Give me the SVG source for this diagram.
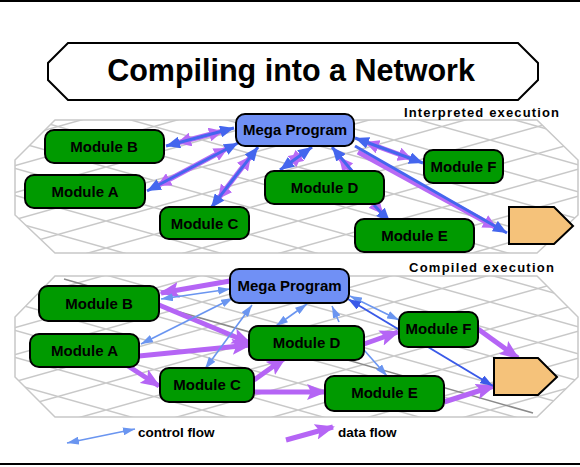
<svg xmlns="http://www.w3.org/2000/svg" width="580" height="467" viewBox="0 0 580 467">
<defs>
<style>
.node{stroke:#000;stroke-width:2}
.mod{fill:#009a00}
.mega{fill:#7090f5}
.lbl{font-family:"Liberation Sans",Arial,sans-serif;font-weight:bold;font-size:15px;fill:#000;text-anchor:middle}
.cap{font-family:"Liberation Sans",Arial,sans-serif;font-weight:bold;font-size:13px;fill:#000}
.panel{fill:url(#grid);stroke:#c8c8c8;stroke-width:1.5}
.ib{stroke:#4466ee;stroke-width:3;fill:none}
.ip{stroke:#b86af5;stroke-width:5;fill:none}
.cf{stroke:#6a95f0;stroke-width:1.6;fill:none}
.cfd{stroke:#3a5ae8;stroke-width:2;fill:none}
.df{stroke:#b565f5;stroke-width:5;fill:none}
</style>
<pattern id="grid" patternUnits="userSpaceOnUse" width="96" height="27" x="10" y="5">
<rect width="96" height="27" fill="#fff"/>
<path d="M0,0 L96,27 M0,27 L96,0" stroke="#c8c8c8" stroke-width="1.5" fill="none"/>
</pattern>
<marker id="hb" markerUnits="userSpaceOnUse" markerWidth="14" markerHeight="12" refX="14" refY="6" orient="auto-start-reverse"><path d="M0,0 L14,6 L0,12 z" fill="#4466ee"/></marker>
<marker id="hp" markerUnits="userSpaceOnUse" markerWidth="14" markerHeight="14" refX="14" refY="7" orient="auto-start-reverse"><path d="M0,0 L14,7 L0,14 z" fill="#b86af5"/></marker>
<marker id="hc" markerUnits="userSpaceOnUse" markerWidth="12" markerHeight="8" refX="12" refY="4" orient="auto-start-reverse"><path d="M0,0 L12,4 L0,8 z" fill="#6a95f0"/></marker>
<marker id="hcd" markerUnits="userSpaceOnUse" markerWidth="13" markerHeight="9" refX="13" refY="4.5" orient="auto-start-reverse"><path d="M0,0 L13,4.5 L0,9 z" fill="#3a5ae8"/></marker>
<marker id="hd" markerUnits="userSpaceOnUse" markerWidth="20" markerHeight="16" refX="18" refY="8" orient="auto"><path d="M0,0 L20,8 L0,16 L4,8 z" fill="#b565f5"/></marker>
</defs>
<rect width="580" height="467" fill="#fff"/>
<line x1="0" y1="1" x2="580" y2="1" stroke="#000" stroke-width="2"/>
<line x1="0" y1="464" x2="580" y2="464" stroke="#000" stroke-width="2"/>

<g id="title">
<polygon points="68,43 518,43 538,63 538,80 518,100 68,100 48,80 48,63" fill="#fff" stroke="#000" stroke-width="2"/>
<text x="291" y="81" font-family="Liberation Sans, Arial, sans-serif" font-weight="bold" font-size="30.5" text-anchor="middle">Compiling into a Network</text>
</g>

<g id="panels">
<polygon class="panel" points="55,120 537,120 578,160 578,215 537,253 55,253 15,215 15,160"/>
<polygon class="panel" points="55,276 537,276 578,317 578,377 537,417 55,417 15,377 15,317"/>
<line x1="64" y1="279" x2="533" y2="413" stroke="#8a8a8a" stroke-width="1.5"/>
<text class="cap" x="404" y="117" textLength="155" lengthAdjust="spacing">Interpreted execution</text>
<text class="cap" x="409" y="272" textLength="145" lengthAdjust="spacing">Compiled execution</text>
</g>

<g id="connectors">
<!-- top panel: interpreted -->
<path class="ip" d="M177,143 L223,131" marker-start="url(#hp)" marker-end="url(#hp)"/>
<path class="ib" d="M166,146 L234,128" marker-start="url(#hb)" marker-end="url(#hb)"/>
<path class="ip" d="M157,186 L228,148" marker-start="url(#hp)" marker-end="url(#hp)"/>
<path class="ib" d="M147,191 L238,143" marker-start="url(#hb)" marker-end="url(#hb)"/>
<path class="ip" d="M218,199 L251,156" marker-start="url(#hp)" marker-end="url(#hp)"/>
<path class="ib" d="M211,208 L258,147" marker-start="url(#hb)" marker-end="url(#hb)"/>
<path class="ip" d="M289,164 L303,153" marker-start="url(#hp)" marker-end="url(#hp)"/>
<path class="ib" d="M280,170 L312,147" marker-start="url(#hb)" marker-end="url(#hb)"/>
<path class="ip" d="M354,175 L339,157" marker-end="url(#hp)"/>
<path class="ib" d="M352,171 L332,147" marker-end="url(#hb)"/>
<path class="ip" d="M365,142 L412,159" marker-start="url(#hp)" marker-end="url(#hp)"/>
<path class="ib" d="M355,138 L423,163" marker-start="url(#hb)" marker-end="url(#hb)"/>
<path class="ip" d="M358,152 L497,228" marker-end="url(#hp)"/>
<path class="ib" d="M355,146 L507,233" marker-end="url(#hb)"/>
<path class="ip" d="M372,201 L383,214" marker-end="url(#hp)"/>
<path class="ib" d="M374,205 L390,222" marker-end="url(#hb)"/>

<!-- bottom panel: compiled, data flow -->
<path class="df" d="M230,281 L161,293" marker-end="url(#hd)"/>
<path class="df" d="M159,305 L250,343" marker-end="url(#hd)"/>
<path class="df" d="M139,356 L250,345" marker-end="url(#hd)"/>
<path class="df" d="M128,366 L159,386" marker-end="url(#hd)"/>
<path class="df" d="M254,380 L285,358" marker-end="url(#hd)"/>
<path class="df" d="M254,392 L325,392" marker-end="url(#hd)"/>
<path class="df" d="M364,344 L398,332" marker-end="url(#hd)"/>
<path class="df" d="M478,329 L518,358" marker-end="url(#hd)"/>
<path class="df" d="M444,402 L494,386" marker-end="url(#hd)"/>
<!-- bottom panel: control flow -->
<path class="cf" d="M161,299 L230,289" marker-start="url(#hc)" marker-end="url(#hc)"/>
<path class="cf" d="M141,344 L233,298" marker-start="url(#hc)" marker-end="url(#hc)"/>
<path class="cf" d="M205,369 L252,305" marker-start="url(#hc)" marker-end="url(#hc)"/>
<path class="cf" d="M276,326 L307,304" marker-start="url(#hc)" marker-end="url(#hc)"/>
<path class="cf" d="M339,322 L332,306" marker-end="url(#hc)"/>
<path class="cf" d="M350,296 L399,320" marker-start="url(#hc)" marker-end="url(#hc)"/>
<path class="cfd" d="M348,299 L493,386" marker-start="url(#hcd)" marker-end="url(#hcd)"/>
<path class="cf" d="M364,350 L387,376" marker-end="url(#hc)"/>

<!-- legend -->
<path class="cf" d="M67,443 L135,429" marker-start="url(#hc)" marker-end="url(#hc)"/>
<path class="df" d="M286,440 L333,427" marker-end="url(#hd)"/>
</g>

<g id="legend-text">
<text x="138" y="437" font-family="Liberation Sans, Arial, sans-serif" font-weight="bold" font-size="13.5">control flow</text>
<text x="338" y="437" font-family="Liberation Sans, Arial, sans-serif" font-weight="bold" font-size="13.5">data flow</text>
</g>

<!-- top panel nodes -->
<g id="t-mega"><rect class="node mega" x="236" y="114" width="118" height="32" rx="9"/><text class="lbl" x="295" y="135">Mega Program</text></g>
<g id="t-modB"><rect class="node mod" x="45" y="130" width="119" height="33" rx="9"/><text class="lbl" x="104" y="152">Module B</text></g>
<g id="t-modA"><rect class="node mod" x="25" y="175" width="120" height="33" rx="9"/><text class="lbl" x="85" y="197">Module A</text></g>
<g id="t-modC"><rect class="node mod" x="160" y="207" width="89" height="32" rx="9"/><text class="lbl" x="204.5" y="229">Module C</text></g>
<g id="t-modD"><rect class="node mod" x="265" y="171" width="119" height="33" rx="9"/><text class="lbl" x="324.5" y="193">Module D</text></g>
<g id="t-modF"><rect class="node mod" x="424" y="150" width="79" height="33" rx="9"/><text class="lbl" x="463.5" y="172">Module F</text></g>
<g id="t-modE"><rect class="node mod" x="355" y="219" width="119" height="33" rx="9"/><text class="lbl" x="414.5" y="241">Module E</text></g>
<g id="t-out"><polygon class="node" fill="#f5c27a" points="509,207 554,207 573,226 554,244 509,244"/></g>

<!-- bottom panel nodes -->
<g id="b-mega"><rect class="node mega" x="230" y="269" width="119" height="34" rx="9"/><text class="lbl" x="289.5" y="291">Mega Program</text></g>
<g id="b-modB"><rect class="node mod" x="39" y="286" width="120" height="35" rx="9"/><text class="lbl" x="99" y="309">Module B</text></g>
<g id="b-modA"><rect class="node mod" x="30" y="334" width="109" height="33" rx="9"/><text class="lbl" x="84.5" y="356">Module A</text></g>
<g id="b-modC"><rect class="node mod" x="160" y="368" width="94" height="34" rx="9"/><text class="lbl" x="207" y="390">Module C</text></g>
<g id="b-modD"><rect class="node mod" x="249" y="326" width="115" height="34" rx="9"/><text class="lbl" x="306.5" y="348">Module D</text></g>
<g id="b-modF"><rect class="node mod" x="399" y="312" width="79" height="35" rx="9"/><text class="lbl" x="438.5" y="334">Module F</text></g>
<g id="b-modE"><rect class="node mod" x="325" y="376" width="119" height="35" rx="9"/><text class="lbl" x="384.5" y="398">Module E</text></g>
<g id="b-out"><polygon class="node" fill="#f5c27a" points="494,358 538,358 557,377 538,395 494,395"/></g>
</svg>
